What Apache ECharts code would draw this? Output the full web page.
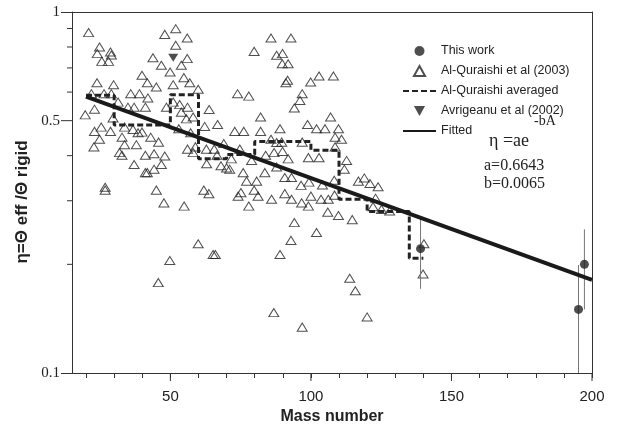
<!DOCTYPE html>
<html><head><meta charset="utf-8">
<script src="https://cdn.jsdelivr.net/npm/echarts@6/dist/echarts.min.js"></script>
<style>html,body{margin:0;padding:0;background:#fff}#c{width:617px;height:435px}</style>
</head><body><div id="c"></div>
<script>
// Al-Quraishi et al (2003) points: mass number and eta
const quraishiMass = [20.9,48.0,51.9,56.0,85.8,92.9,24.8,24.0,28.7,25.6,28.0,29.0,51.9,79.8,87.8,89.9,89.8,91.9,43.8,46.8,53.9,56.0,49.9,39.9,41.8,45.0,23.9,29.8,51.0,54.8,56.9,59.9,91.7,91.1,99.9,102.9,108.0,96.9,96.1,94.1,21.9,26.4,29.0,35.9,39.0,42.0,73.9,77.9,19.7,23.0,31.4,34.9,37.1,41.1,48.6,51.0,53.3,56.1,53.9,55.7,58.1,63.8,29.6,25.4,23.0,28.7,33.7,36.7,38.5,39.9,43.0,24.8,32.8,33.7,37.9,45.8,22.8,31.9,32.8,41.1,44.2,48.0,37.1,46.8,44.2,41.8,41.1,53.0,57.2,62.2,66.8,72.9,76.1,82.1,82.1,89.0,98.8,102.0,105.0,107.0,109.8,108.6,110.9,85.8,87.8,89.6,96.9,56.1,58.9,62.8,65.6,58.1,62.9,68.0,70.0,71.1,66.6,69.0,71.7,74.7,78.9,83.9,86.9,89.9,91.9,99.1,102.9,108.6,112.7,111.9,75.9,83.6,77.1,80.7,87.8,90.7,93.1,96.5,99.3,104.1,108.3,116.9,119.0,121.0,26.8,26.8,45.0,61.9,63.7,74.1,75.1,79.8,81.2,86.0,90.7,93.1,100.0,96.7,99.1,103.6,106.2,47.7,54.9,77.9,106.0,109.8,114.7,94.1,102.0,92.9,59.9,65.2,66.0,89.0,49.8,45.7,113.8,115.8,86.8,96.9,120.0,108.4,123.9,123.0,122.1,125.1,128.0,140.2,139.9];
const quraishiEta = [0.877,0.867,0.899,0.847,0.847,0.847,0.800,0.767,0.775,0.730,0.730,0.760,0.809,0.778,0.759,0.767,0.719,0.719,0.747,0.712,0.712,0.743,0.682,0.668,0.637,0.620,0.637,0.629,0.629,0.658,0.637,0.611,0.647,0.637,0.640,0.665,0.665,0.594,0.569,0.542,0.594,0.594,0.594,0.594,0.594,0.578,0.594,0.585,0.519,0.538,0.563,0.545,0.545,0.545,0.545,0.563,0.554,0.545,0.528,0.506,0.512,0.537,0.509,0.480,0.467,0.467,0.480,0.473,0.463,0.465,0.450,0.444,0.450,0.429,0.429,0.436,0.423,0.408,0.401,0.401,0.405,0.399,0.378,0.378,0.367,0.359,0.359,0.475,0.463,0.482,0.488,0.467,0.467,0.467,0.512,0.475,0.488,0.475,0.475,0.512,0.475,0.450,0.444,0.444,0.435,0.436,0.436,0.417,0.423,0.417,0.417,0.408,0.380,0.375,0.370,0.367,0.401,0.432,0.392,0.417,0.388,0.401,0.408,0.411,0.392,0.395,0.395,0.423,0.388,0.367,0.359,0.359,0.340,0.340,0.372,0.348,0.348,0.331,0.338,0.332,0.342,0.340,0.347,0.335,0.327,0.321,0.321,0.321,0.314,0.309,0.316,0.321,0.309,0.303,0.314,0.303,0.309,0.296,0.290,0.303,0.303,0.296,0.290,0.290,0.279,0.273,0.266,0.261,0.245,0.233,0.228,0.213,0.213,0.213,0.205,0.178,0.183,0.169,0.147,0.134,0.143,0.311,0.328,0.305,0.289,0.284,0.281,0.228,0.188];

// This work with error bars
const thisWorkMass = [139.0, 195.2, 197.3];
const thisWorkEta = [0.221, 0.150, 0.200];
const thisWorkLow = [0.171, 0.090, 0.150];
const thisWorkHigh = [0.268, 0.199, 0.250];

// Avrigeanu et al (2002)
const avrigeanuMass = [51.0];
const avrigeanuEta = [0.747];

// Al-Quraishi averaged (step line): bin edges and mean values
const avgEdges = [20, 30, 50, 60, 70, 80, 100, 110, 120, 135, 140];
const avgEta = [0.588, 0.486, 0.590, 0.392, 0.403, 0.438, 0.414, 0.303, 0.280, 0.208];

// Fitted line end points (eta = a e^(-bA))
const fitMass = [20, 200];
const fitEta = [0.583, 0.181];

// Axis ticks and labels
const xTickValues = [20,30,40,50,60,70,80,90,100,110,120,130,140,150,160,170,180,190,200];
const xLabelValues = [50, 100, 150, 200];
const yMinorTicks = [0.2, 0.3, 0.4, 0.6, 0.7, 0.8, 0.9];
const yExtraLabels = [0.5];

const X_MIN = 15, X_MAX = 200;

const quraishiData = quraishiMass.map((m, i) => [m, quraishiEta[i]]);
const thisWorkData = thisWorkMass.map((m, i) => [m, thisWorkEta[i]]);
const errData = thisWorkMass.map((m, i) => [m, thisWorkEta[i], thisWorkLow[i], thisWorkHigh[i]]);
const avrData = avrigeanuMass.map((m, i) => [m, avrigeanuEta[i]]);
const avgData = [];
avgEta.forEach((v, i) => { avgData.push([avgEdges[i], v]); avgData.push([avgEdges[i + 1], v]); });
const fitData = fitMass.map((m, i) => [m, fitEta[i]]);

const ink = '#222';
const TRI_UP = 'path://M5,0 L10,9 L0,9 Z';
const TRI_DOWN = 'path://M0,0 L10,0 L5,9 Z';
const noSym = { color: 'rgba(0,0,0,0)', borderColor: 'rgba(0,0,0,0)', borderWidth: 0 };
const chart = echarts.init(document.getElementById('c'), null, { renderer: 'canvas' });

chart.setOption({
  animation: false,
  backgroundColor: '#fff',
  grid: { left: 72, right: 25, top: 12, bottom: 62, containLabel: false },
  legend: {
    orient: 'vertical', left: 402, top: 44, padding: 0,
    itemWidth: 33, itemHeight: 10, itemGap: 6,
    symbolKeepAspect: true,
    textStyle: { fontFamily: 'Liberation Sans', fontSize: 12.5, color: ink, lineHeight: 14 },
    data: [
      { name: 'This work' },
      { name: 'Al-Quraishi et al (2003)' },
      { name: 'Al-Quraishi averaged', itemStyle: noSym },
      { name: 'Avrigeanu et al (2002)' },
      { name: 'Fitted', itemStyle: noSym }
    ]
  },
  xAxis: [{
    type: 'value', min: X_MIN, max: X_MAX, position: 'bottom',
    name: 'Mass number', nameLocation: 'middle', nameGap: 36,
    nameTextStyle: { fontFamily: 'Liberation Sans', fontWeight: 'bold', fontSize: 16, color: ink },
    axisLine: { show: true, lineStyle: { color: '#333', width: 1 } },
    axisTick: { show: true, inside: false, length: 5, customValues: xTickValues, lineStyle: { color: '#333' } },
    axisLabel: { customValues: xLabelValues, margin: 16, fontFamily: 'Liberation Sans', fontSize: 15, color: ink },
    splitLine: { show: false }
  }, {
    type: 'value', min: X_MIN, max: X_MAX, position: 'top',
    axisLine: { show: true, lineStyle: { color: '#333', width: 1 } },
    axisTick: { show: false }, axisLabel: { show: false }, splitLine: { show: false }
  }],
  yAxis: [{
    type: 'log', logBase: 10, min: 0.1, max: 1, position: 'left',
    name: 'η=Θ eff /Θ rigid\u00a0\u00a0\u00a0\u00a0', nameLocation: 'middle', nameGap: 40,
    nameTextStyle: { fontFamily: 'Liberation Sans', fontWeight: 'bold', fontSize: 17, color: ink },
    axisLine: { show: true, lineStyle: { color: '#333', width: 1 } },
    axisTick: { show: true, inside: false, length: 11, lineStyle: { color: '#333' } },
    axisLabel: { margin: 12, fontFamily: 'Liberation Serif', fontSize: 15, color: ink },
    splitLine: { show: false }, minorTick: { show: false }
  }, {
    type: 'log', logBase: 10, min: 0.1, max: 1, position: 'right',
    axisLine: { show: true, lineStyle: { color: '#333', width: 1 } },
    axisTick: { show: false }, axisLabel: { show: false }, splitLine: { show: false }
  }],
  graphic: [
    { type: 'text', left: 489, top: 132, style: { text: 'η =ae', font: '18px "Liberation Serif"', fill: ink } },
    { type: 'text', left: 534, top: 114, style: { text: '-bA', font: '14px "Liberation Serif"', fill: ink } },
    { type: 'text', left: 484, top: 158, style: { text: 'a=0.6643', font: '16px "Liberation Serif"', fill: ink } },
    { type: 'text', left: 484, top: 176, style: { text: 'b=0.0065', font: '16px "Liberation Serif"', fill: ink } }
  ],
  series: [
    {
      name: 'Al-Quraishi et al (2003)', type: 'scatter', data: quraishiData,
      symbol: TRI_UP, symbolSize: [10, 9], symbolKeepAspect: true,
      itemStyle: { color: 'rgba(255,255,255,0)', borderColor: ink, borderWidth: 1 },
      z: 2
    },
    {
      name: 'errors', type: 'custom', data: errData, clip: true, silent: true, z: 3,
      renderItem: function (params, api) {
        const x = api.value(0);
        const lo = api.coord([x, api.value(2)]);
        const hi = api.coord([x, api.value(3)]);
        return { type: 'line', shape: { x1: lo[0], y1: lo[1], x2: hi[0], y2: hi[1] }, style: { stroke: '#777', lineWidth: 1 } };
      }
    },
    {
      name: 'Al-Quraishi averaged', type: 'line', data: avgData, symbol: 'none',
      lineStyle: { color: ink, width: 3, type: [6, 3] }, itemStyle: { color: ink }, z: 4
    },
    {
      name: 'Fitted', type: 'line', data: fitData, symbol: 'none',
      lineStyle: { color: '#1a1a1a', width: 4 }, itemStyle: { color: '#1a1a1a' }, z: 5
    },
    {
      name: 'This work', type: 'scatter', data: thisWorkData, symbol: 'circle', symbolSize: 9,
      itemStyle: { color: ink }, z: 6
    },
    {
      name: 'Avrigeanu et al (2002)', type: 'scatter', data: avrData,
      symbol: TRI_DOWN, symbolSize: [10, 9], symbolKeepAspect: true,
      itemStyle: { color: ink }, z: 6
    },
    {
      name: 'yMinor', type: 'custom', clip: false, silent: true, z: 1,
      data: yMinorTicks.map(v => [X_MIN, v]),
      renderItem: function (params, api) {
        const p = api.coord([api.value(0), api.value(1)]);
        return { type: 'line', shape: { x1: p[0] - 5, y1: p[1], x2: p[0], y2: p[1] }, style: { stroke: '#333', lineWidth: 1 } };
      }
    },
    {
      name: 'yExtra', type: 'custom', clip: false, silent: true, z: 1,
      data: yExtraLabels.map(v => [X_MIN, v]),
      renderItem: function (params, api) {
        const p = api.coord([api.value(0), api.value(1)]);
        return { type: 'group', children: [
          { type: 'line', shape: { x1: p[0] - 11, y1: p[1], x2: p[0], y2: p[1] }, style: { stroke: '#333', lineWidth: 1 } },
          { type: 'text', x: p[0] - 12, y: p[1], style: { text: String(api.value(1)), align: 'right', verticalAlign: 'middle', font: '15px "Liberation Serif"', fill: ink } }
        ] };
      }
    },
    {
      name: 'xMajor', type: 'custom', clip: false, silent: true, z: 1,
      data: xLabelValues.map(v => [v, 0.1]),
      renderItem: function (params, api) {
        const p = api.coord([api.value(0), api.value(1)]);
        return { type: 'line', shape: { x1: p[0], y1: p[1], x2: p[0], y2: p[1] + 8 }, style: { stroke: '#333', lineWidth: 1 } };
      }
    }
  ]
});
</script>
</body></html>
